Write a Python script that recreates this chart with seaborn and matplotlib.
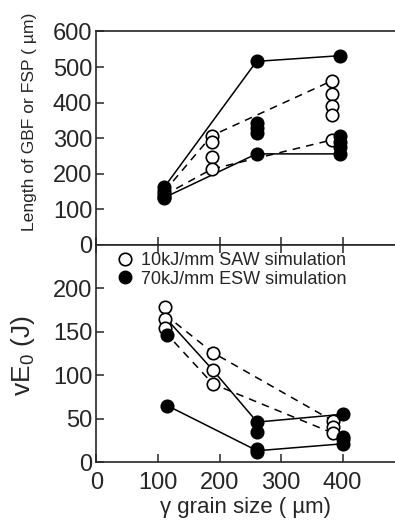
import matplotlib
matplotlib.use("Agg")
import matplotlib.pyplot as plt
import seaborn as sns
import pandas as pd
from matplotlib.lines import Line2D

# ---- top panel: length of GBF or FSP (um) ----
top_saw_x = [110, 110, 110, 187, 187, 187, 187, 382, 382, 382, 382, 382]
top_saw_y = [152, 143, 135, 307, 288, 246, 213, 461, 425, 391, 366, 295]
top_esw_x = [110, 110, 260, 260, 260, 260, 260, 396, 396, 396, 396, 396]
top_esw_y = [162, 133, 516, 342, 328, 314, 256, 532, 305, 290, 275, 256]

top_solid_hi_x = [110, 260, 396]
top_solid_hi_y = [162, 516, 532]
top_solid_lo_x = [110, 260, 396]
top_solid_lo_y = [133, 256, 256]
top_dash_hi_x = [110, 187, 382]
top_dash_hi_y = [150, 307, 461]
top_dash_lo_x = [110, 187, 382]
top_dash_lo_y = [140, 213, 295]

# ---- bottom panel: vE0 (J) ----
bot_saw_x = [111, 111, 111, 189, 189, 189, 385, 385, 385]
bot_saw_y = [178, 165, 154, 126, 106, 90, 47, 40, 33]
bot_esw_x = [115, 115, 261, 261, 261, 261, 400, 400, 400, 400]
bot_esw_y = [146, 65, 46, 35, 15, 12, 55, 29, 26, 21]

bot_solid_a_x = [111, 189, 261, 400]
bot_solid_a_y = [167, 106, 46, 55]
bot_solid_b_x = [115, 261, 400]
bot_solid_b_y = [65, 13, 21]
bot_dash_c_x = [111, 189, 385]
bot_dash_c_y = [170, 126, 47]
bot_dash_d_x = [111, 189, 385]
bot_dash_d_y = [150, 90, 33]

labels = ["10kJ/mm SAW simulation", "70kJ/mm ESW simulation"]

sns.set_style("ticks")
plt.rcParams["font.family"] = ["Liberation Sans", "DejaVu Sans"]
plt.rcParams["mathtext.default"] = "regular"

fig = plt.figure(figsize=(3.95, 5.22), dpi=100)
ax1 = fig.add_axes([0.2443, 0.5307, 0.7557, 0.409])
ax2 = fig.add_axes([0.2443, 0.1149, 0.7557, 0.4158])

ms = 80


def draw_line(ax, xs, ys, dashed):
    df = pd.DataFrame({"x": xs, "y": ys})
    sns.lineplot(data=df, x="x", y="y", ax=ax, color="black", lw=1.1,
                 sort=False, estimator=None,
                 linestyle=(0, (5, 4)) if dashed else "-", zorder=2)


def draw_points(ax, xs, ys, filled):
    df = pd.DataFrame({"x": xs, "y": ys})
    sns.scatterplot(data=df, x="x", y="y", ax=ax, s=ms,
                    color="black" if filled else "white",
                    edgecolor="black", linewidth=1.2, zorder=3)


draw_line(ax1, top_solid_hi_x, top_solid_hi_y, False)
draw_line(ax1, top_solid_lo_x, top_solid_lo_y, False)
draw_line(ax1, top_dash_hi_x, top_dash_hi_y, True)
draw_line(ax1, top_dash_lo_x, top_dash_lo_y, True)
draw_points(ax1, top_saw_x, top_saw_y, False)
draw_points(ax1, top_esw_x, top_esw_y, True)

draw_line(ax2, bot_solid_a_x, bot_solid_a_y, False)
draw_line(ax2, bot_solid_b_x, bot_solid_b_y, False)
draw_line(ax2, bot_dash_c_x, bot_dash_c_y, True)
draw_line(ax2, bot_dash_d_x, bot_dash_d_y, True)
draw_points(ax2, bot_saw_x, bot_saw_y, False)
draw_points(ax2, bot_esw_x, bot_esw_y, True)

for ax in (ax1, ax2):
    ax.set_xlim(0, 485)
    ax.set_xticks([0, 100, 200, 300, 400])
    ax.spines["right"].set_visible(False)
    for s in ("left", "top", "bottom"):
        ax.spines[s].set_linewidth(1.2)
    ax.tick_params(direction="in", length=6, width=1.1, labelsize=17, pad=3)
    ax.set_xlabel("")
    ax.set_ylabel("")

ax1.set_ylim(0, 600)
ax1.set_yticks(range(0, 601, 100))
ax1.tick_params(axis="x", labelbottom=False)
ax1.set_ylabel("Length of GBF or FSP ( \u00b5m)", fontsize=12.6)
ax1.yaxis.set_label_coords(-0.2, 0.575)

ax2.set_ylim(0, 250)
ax2.set_yticks(range(0, 201, 50))
ax2.tick_params(axis="x", top=True, pad=7)
ax2.set_ylabel("vE$_0$ (J)", fontsize=19)
ax2.yaxis.set_label_coords(-0.2, 0.49)
ax2.set_xlabel("\u03b3 grain size ( \u00b5m)", fontsize=16, labelpad=2)

handles = [
    Line2D([], [], marker="o", ls="", markersize=9, markerfacecolor="white",
           markeredgecolor="black", markeredgewidth=1.2),
    Line2D([], [], marker="o", ls="", markersize=9, markerfacecolor="black",
           markeredgecolor="black"),
]
ax2.legend(handles, labels, loc="upper left", bbox_to_anchor=(0.06, 0.985),
           frameon=False, fontsize=13, handlelength=0.8, handletextpad=0.45,
           labelspacing=0.1, borderpad=0.2, borderaxespad=0)

fig.savefig("out.png", dpi=100)
